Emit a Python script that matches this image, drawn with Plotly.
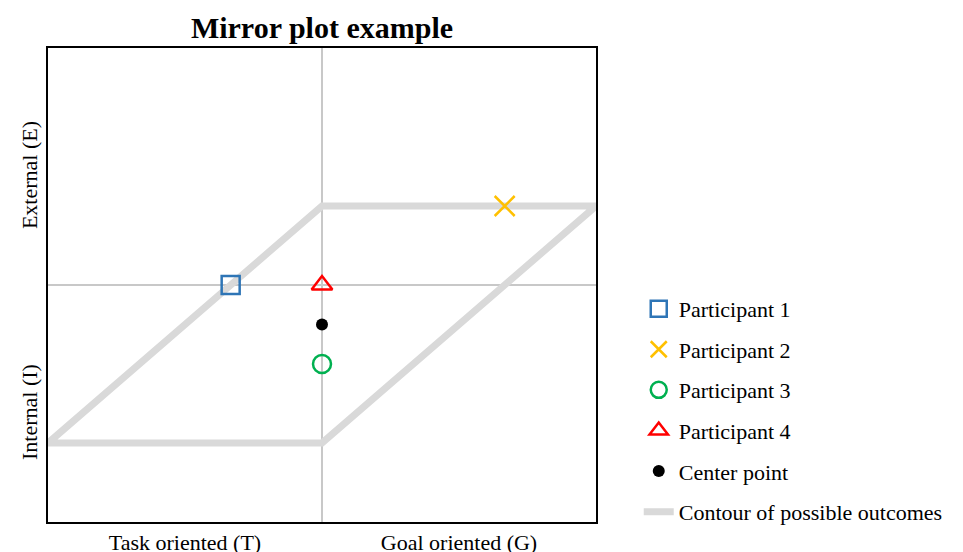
import plotly.graph_objects as go

# Data
contour_x = [-3, 0, 3, 0, -3]
contour_y = [-2, -2, 1, 1, -2]
participants = ["Participant 1", "Participant 2", "Participant 3", "Participant 4"]
part_x = [-1, 2, 0, 0]
part_y = [0, 1, -1, 0]
center_x = [0]
center_y = [-0.5]
x_tick_vals = [-1.5, 1.5]
x_tick_text = ["Task oriented (T)", "Goal oriented (G)"]
y_tick_vals = [1.35, -1.65]
y_tick_text = ["External (E)", "Internal (I)"]

symbols = ["square-open", "x-thin-open", "circle-open", "triangle-up-open"]
colors = ["#2e75b6", "#ffc000", "#00b050", "#ff0000"]

FONT = "Liberation Serif, Times New Roman, serif"

fig = go.Figure()
fig.add_trace(go.Scatter(
    x=contour_x, y=contour_y, mode="lines", name="Contour of possible outcomes",
    legendgroup="contour", legendrank=6,
    line=dict(color="#d9d9d9", width=7),
))
for i, name in enumerate(participants):
    fig.add_trace(go.Scatter(
        x=[part_x[i]], y=[part_y[i]], mode="markers", name=name,
        legendgroup=name, legendrank=i + 1,
        marker=dict(symbol=symbols[i], size=18 if i != 1 else 20, color=colors[i],
                    line=dict(width=2.5, color=colors[i])),
    ))
fig.add_trace(go.Scatter(
    x=center_x, y=center_y, mode="markers", name="Center point",
    legendgroup="center", legendrank=5,
    marker=dict(symbol="circle", size=12, color="black"),
))

fig.update_layout(
    width=955, height=544,
    margin=dict(l=40, r=367, t=40, b=30),
    paper_bgcolor="white", plot_bgcolor="white",
    font=dict(family=FONT, size=22, color="black"),
    title=dict(text="<b>Mirror plot example</b>", x=0.5, xref="paper", xanchor="center",
               y=0.965, yref="container", yanchor="middle",
               font=dict(family=FONT, size=30, color="black")),
    showlegend=True,
    legend=dict(x=1.078, xanchor="left", y=0.494, yanchor="top",
                traceorder="grouped", tracegroupgap=9,
                font=dict(family=FONT, size=22, color="black"),
                bgcolor="rgba(0,0,0,0)"),
)
fig.update_xaxes(range=[-3, 3], tickvals=x_tick_vals, ticktext=x_tick_text,
                 showgrid=False, zeroline=True, zerolinecolor="#c8c8c8", zerolinewidth=1.5,
                 showline=True, linecolor="black", linewidth=2, mirror=True,
                 ticks="", ticklen=0, tickfont=dict(family=FONT, size=22), fixedrange=True,
                 automargin=False)
fig.update_yaxes(range=[-3, 3], tickvals=y_tick_vals, ticktext=y_tick_text, tickangle=-90,
                 showgrid=False, zeroline=True, zerolinecolor="#c8c8c8", zerolinewidth=1.5,
                 showline=True, linecolor="black", linewidth=2, mirror=True,
                 ticks="", ticklen=0, tickfont=dict(family=FONT, size=22), fixedrange=True,
                 automargin=False)

fig.write_html("out.html")
